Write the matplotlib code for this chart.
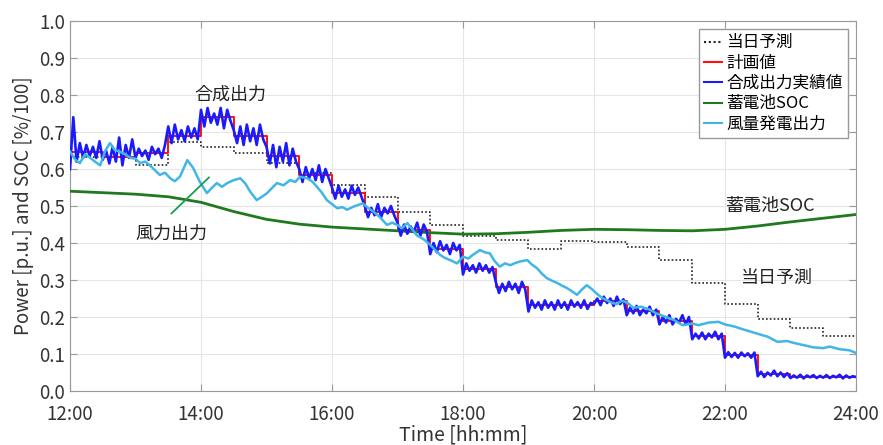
#------------------------------------------------------------------------------
#	Libraries
#------------------------------------------------------------------------------
import numpy as np
from matplotlib import pyplot as plt

plt.rcParams['font.family'] = ['Noto Sans CJK JP', 'DejaVu Sans']

#------------------------------------------------------------------------------
#	Data (hours on x, p.u. on y)
#------------------------------------------------------------------------------
# 30 minute blocks from 12:00 to 24:00
block_start = np.arange(12.0, 24.0, 0.5)

# 当日予測 (dotted)
forecast = [0.633, 0.633, 0.611, 0.674, 0.660, 0.643, 0.616, 0.588, 0.556, 0.525,
            0.485, 0.449, 0.420, 0.408, 0.384, 0.406, 0.403, 0.390, 0.354, 0.293,
            0.235, 0.195, 0.170, 0.149]

# 計画値 (red)
plan = [0.645, 0.632, 0.642, 0.690, 0.740, 0.690, 0.635, 0.585, 0.535, 0.485,
        0.435, 0.385, 0.330, 0.280, 0.232, 0.232, 0.242, 0.215, 0.190, 0.148,
        0.097, 0.045, 0.038, 0.038]

# 合成出力実績値 (blue), 3 minute samples
actual = [
    0.600, 0.740, 0.620, 0.670, 0.630, 0.665, 0.635, 0.660, 0.630, 0.675,
    0.625, 0.650, 0.615, 0.660, 0.620, 0.685, 0.610, 0.665, 0.630, 0.680,
    0.630, 0.655, 0.635, 0.650, 0.625, 0.660, 0.640, 0.655, 0.630, 0.665,
    0.715, 0.670, 0.720, 0.680, 0.705, 0.675, 0.715, 0.685, 0.710, 0.680,
    0.760, 0.715, 0.765, 0.725, 0.750, 0.720, 0.765, 0.710, 0.760, 0.730,
    0.705, 0.670, 0.715, 0.665, 0.720, 0.675, 0.710, 0.665, 0.720, 0.680,
    0.660, 0.615, 0.665, 0.605, 0.660, 0.620, 0.670, 0.610, 0.655, 0.620,
    0.600, 0.565, 0.605, 0.575, 0.600, 0.570, 0.610, 0.565, 0.600, 0.575,
    0.550, 0.520, 0.555, 0.525, 0.545, 0.520, 0.555, 0.530, 0.550, 0.525,
    0.500, 0.470, 0.495, 0.475, 0.505, 0.470, 0.495, 0.480, 0.500, 0.475,
    0.455, 0.420, 0.450, 0.425, 0.445, 0.430, 0.455, 0.420, 0.450, 0.430,
    0.370, 0.400, 0.375, 0.405, 0.380, 0.395, 0.370, 0.400, 0.380, 0.395,
    0.315, 0.345, 0.325, 0.340, 0.320, 0.345, 0.325, 0.340, 0.320, 0.335,
    0.295, 0.265, 0.290, 0.270, 0.295, 0.275, 0.290, 0.265, 0.295, 0.275,
    0.215, 0.245, 0.225, 0.240, 0.220, 0.245, 0.225, 0.240, 0.220, 0.245,
    0.225, 0.240, 0.220, 0.245, 0.228, 0.240, 0.225, 0.245, 0.222, 0.238,
    0.235, 0.250, 0.232, 0.255, 0.238, 0.250, 0.230, 0.255, 0.235, 0.248,
    0.205, 0.225, 0.210, 0.230, 0.205, 0.220, 0.210, 0.228, 0.205, 0.220,
    0.180, 0.200, 0.185, 0.205, 0.180, 0.195, 0.185, 0.205, 0.180, 0.200,
    0.140, 0.155, 0.142, 0.158, 0.140, 0.155, 0.145, 0.160, 0.140, 0.155,
    0.090, 0.105, 0.092, 0.103, 0.090, 0.104, 0.094, 0.102, 0.090, 0.104,
    0.040, 0.052, 0.038, 0.050, 0.042, 0.055, 0.040, 0.050, 0.038, 0.048,
    0.035, 0.042, 0.036, 0.044, 0.034, 0.042, 0.037, 0.043, 0.035, 0.041,
    0.036, 0.043, 0.035, 0.041, 0.037, 0.044, 0.034, 0.042, 0.036, 0.040,
    0.038]

# 蓄電池SOC (green)
soc_t = [12.0, 12.5, 13.0, 13.5, 14.0, 14.5, 15.0, 15.5, 16.0, 16.5, 17.0,
         17.5, 18.0, 18.5, 19.0, 19.5, 20.0, 20.5, 21.0, 21.5, 22.0, 22.5,
         23.0, 23.5, 24.0]
soc = [0.540, 0.536, 0.532, 0.525, 0.510, 0.485, 0.464, 0.451, 0.443, 0.438,
       0.433, 0.428, 0.424, 0.425, 0.429, 0.434, 0.437, 0.436, 0.434, 0.433,
       0.437, 0.446, 0.457, 0.467, 0.477]

# 風量発電出力 (light blue)
wind_t = [12.00, 12.08, 12.15, 12.23, 12.31, 12.38, 12.46, 12.54, 12.61, 12.68,
          12.76, 12.84, 12.92, 13.00, 13.07, 13.15, 13.22, 13.30, 13.37, 13.45,
          13.53, 13.60, 13.68, 13.79, 13.88, 13.98, 14.09, 14.16, 14.24, 14.32,
          14.40, 14.50, 14.60, 14.68, 14.75, 14.85, 14.93, 15.01, 15.08, 15.16,
          15.26, 15.36, 15.44, 15.51, 15.62, 15.70, 15.77, 15.85, 15.92, 16.00,
          16.08, 16.16, 16.23, 16.35, 16.47, 16.55, 16.63, 16.73, 16.84, 16.92,
          16.99, 17.07, 17.15, 17.22, 17.30, 17.40, 17.50, 17.58, 17.65, 17.72,
          17.80, 17.91, 18.00, 18.08, 18.15, 18.26, 18.33, 18.41, 18.48, 18.56,
          18.64, 18.72, 18.80, 18.87, 18.98, 19.05, 19.13, 19.20, 19.28, 19.36,
          19.44, 19.52, 19.59, 19.66, 19.74, 19.82, 19.89, 19.97, 20.05, 20.12,
          20.20, 20.28, 20.35, 20.42, 20.50, 20.60, 20.72, 20.85, 20.95, 21.10,
          21.22, 21.35, 21.50, 21.60, 21.75, 21.90, 22.00, 22.15, 22.25, 22.40,
          22.55, 22.65, 22.80, 22.95, 23.05, 23.20, 23.35, 23.50, 23.60, 23.75,
          23.90, 24.00]
wind = [0.647, 0.625, 0.616, 0.640, 0.630, 0.620, 0.610, 0.650, 0.670, 0.652,
        0.647, 0.640, 0.630, 0.628, 0.616, 0.620, 0.610, 0.596, 0.584, 0.590,
        0.575, 0.567, 0.580, 0.624, 0.603, 0.566, 0.535, 0.548, 0.562, 0.552,
        0.562, 0.570, 0.575, 0.560, 0.539, 0.516, 0.525, 0.535, 0.548, 0.562,
        0.556, 0.570, 0.565, 0.579, 0.575, 0.566, 0.552, 0.535, 0.516, 0.505,
        0.494, 0.497, 0.490, 0.500, 0.507, 0.495, 0.485, 0.470, 0.449, 0.455,
        0.449, 0.440, 0.454, 0.438, 0.420, 0.410, 0.395, 0.380, 0.368, 0.360,
        0.354, 0.345, 0.363, 0.358, 0.368, 0.381, 0.375, 0.372, 0.352, 0.336,
        0.345, 0.340, 0.346, 0.350, 0.354, 0.342, 0.332, 0.318, 0.305, 0.298,
        0.292, 0.284, 0.278, 0.270, 0.260, 0.275, 0.286, 0.275, 0.262, 0.252,
        0.245, 0.238, 0.235, 0.244, 0.240, 0.225, 0.228, 0.220, 0.210, 0.200,
        0.192, 0.178, 0.182, 0.178, 0.185, 0.187, 0.180, 0.174, 0.168, 0.160,
        0.152, 0.147, 0.133, 0.135, 0.130, 0.124, 0.118, 0.116, 0.120, 0.113,
        0.110, 0.103]

xtick_pos = [12, 14, 16, 18, 20, 22, 24]
xtick_lab = ['12:00', '14:00', '16:00', '18:00', '20:00', '22:00', '24:00']

#------------------------------------------------------------------------------
#	Plot
#------------------------------------------------------------------------------
fig = plt.figure(figsize=(8.83, 4.45), dpi=100)
ax = fig.add_axes([0.0793, 0.1213, 0.8901, 0.8315])

step_x = np.append(block_start, 24.0)
ax.plot(step_x, forecast + [forecast[-1]], drawstyle='steps-post', color='#222222',
        linestyle=(0, (1, 1.3)), linewidth=1.2, label='当日予測', zorder=3)
ax.plot(step_x, plan + [plan[-1]], drawstyle='steps-post', color='#ff1010',
        linewidth=1.4, label='計画値', zorder=4)
actual_t = np.linspace(12.0, 24.0, len(actual))
ax.plot(actual_t, actual, color='#1a1aff', linewidth=1.9, label='合成出力実績値', zorder=5)
ax.plot(soc_t, soc, color='#1f7a1f', linewidth=2.0, label='蓄電池SOC', zorder=4)
ax.plot(wind_t, wind, color='#41b6e6', linewidth=1.8, label='風量発電出力', zorder=6)

# annotations
ax.text(14.45, 0.80, '合成出力', fontsize=13, ha='center', va='center', color='#222222')
ax.text(13.55, 0.425, '風力出力', fontsize=13, ha='center', va='center', color='#222222')
ax.plot([13.55, 14.12], [0.48, 0.577], color='#12a050', linewidth=1.3, zorder=7)
ax.text(22.7, 0.50, '蓄電池SOC', fontsize=13, ha='center', va='center', color='#222222')
ax.text(22.8, 0.305, '当日予測', fontsize=13, ha='center', va='center', color='#222222')

ax.set_xlim(12, 24)
ax.set_ylim(0, 1.0)
ax.set_xticks(xtick_pos)
ax.set_xticklabels(xtick_lab)
ax.set_yticks(np.arange(0, 1.01, 0.1))
ax.yaxis.set_major_formatter(plt.FormatStrFormatter('%.1f'))
ax.tick_params(direction='in', length=5, color='#999999', labelsize=13.5,
               labelcolor='#333333', right=True, top=True)
ax.tick_params(axis='x', pad=9)
ax.grid(True, color='#e6e6e6', linewidth=0.8)
for s in ax.spines.values():
    s.set_color('#999999')

ax.set_xlabel('Time [hh:mm]', fontsize=14, color='#333333', labelpad=0)
ax.set_ylabel('Power [p.u.] and SOC [%/100]', fontsize=13.5, color='#333333', labelpad=4)

leg = ax.legend(loc='upper right', fontsize=12, handlelength=1.1, handletextpad=0.25,
                labelspacing=0.2, borderpad=0.3, fancybox=False, framealpha=1,
                edgecolor='#999999')
for line in leg.get_lines():
    line.set_linewidth(1.5)

plt.savefig('out.png', dpi=100)
